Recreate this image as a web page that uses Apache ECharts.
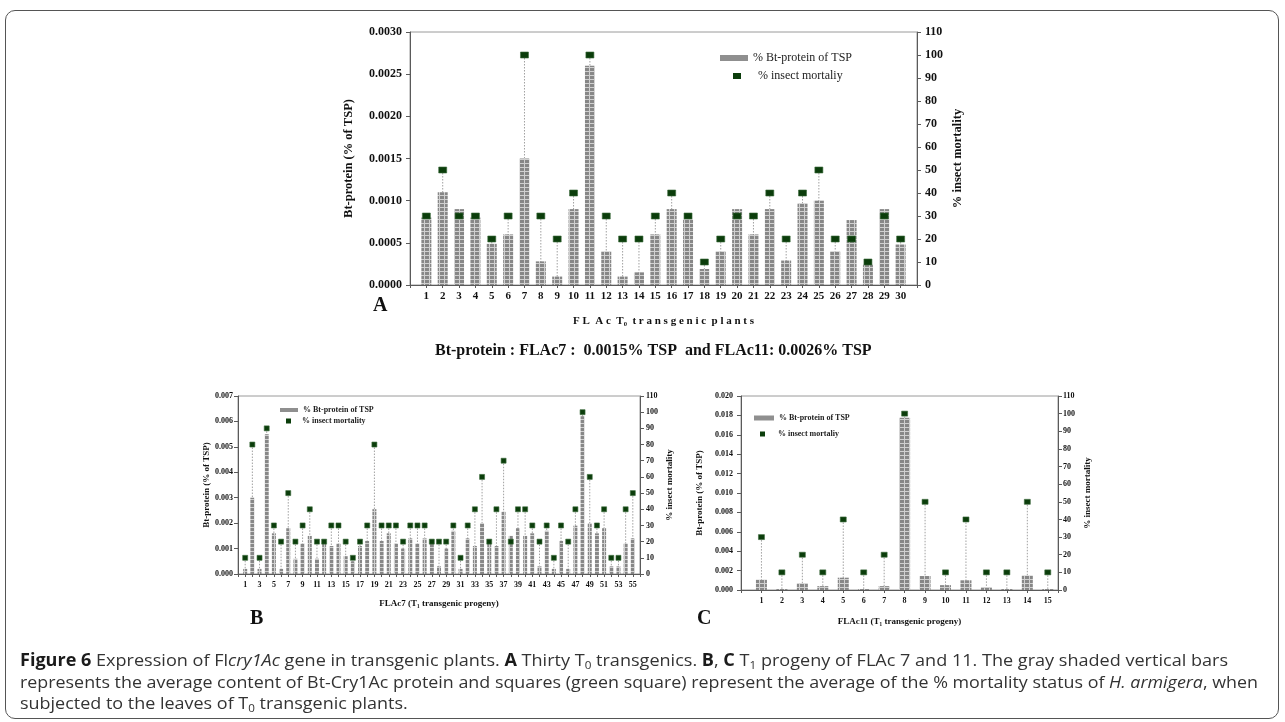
<!DOCTYPE html>
<html><head><meta charset="utf-8">
<script src="https://cdn.jsdelivr.net/npm/echarts@6/dist/echarts.min.js"></script>
<style>
html,body{margin:0;padding:0;background:#fff;}
#wrap{position:relative;width:1285px;height:722px;overflow:hidden;background:#fff;}
#chart{position:absolute;left:0;top:0;width:1285px;height:722px;}
#frame{position:absolute;left:5px;top:10px;width:1272px;height:707px;border:1.5px solid #555;border-radius:10px;pointer-events:none;}
.cap{position:absolute;left:20px;white-space:nowrap;transform-origin:0 50%;font-family:'Open Sans',sans-serif;font-size:17px;color:#333;line-height:20px;}
.cap sub{font-size:11px;vertical-align:-3px;line-height:0;}
.cap b{color:#1b1b1b;}
</style></head>
<body><div id="wrap"><div id="chart"></div><div id="frame"></div>
<div class="cap" id="c1" style="top:650px"><b>Figure 6</b> Expression of Fl<i>cry1Ac</i> gene in transgenic plants. <b>A</b> Thirty T<sub>0</sub> transgenics. <b>B</b>, <b>C</b> T<sub>1</sub> progeny of FLAc 7 and 11. The gray shaded vertical bars</div>
<div class="cap" id="c2" style="top:672px">represents the average content of Bt-Cry1Ac protein and squares (green square) represent the average of the % mortality status of <i>H. armigera</i>, when</div>
<div class="cap" id="c3" style="top:693px">subjected to the leaves of T<sub>0</sub> transgenic plants.</div>
</div>
<script>
// ---------- DATA ----------
const catsA = ['1','2','3','4','5','6','7','8','9','10','11','12','13','14','15','16','17','18','19','20','21','22','23','24','25','26','27','28','29','30'];
const proteinA = [0.0008,0.0011,0.0009,0.0008,0.00049,0.0006,0.0015,0.00028,0.0001,0.0009,0.0026,0.0004,0.0001,0.00015,0.0006,0.0009,0.00078,0.00019,0.0004,0.0009,0.0006,0.0009,0.00029,0.00097,0.001,0.0004,0.00077,0.00024,0.0009,0.00048];
const mortalityA = [30,50,30,30,20,30,100,30,20,40,100,30,20,20,30,40,30,10,20,30,30,40,20,40,50,20,20,10,30,20];

const catsB = ['1','2','3','4','5','6','7','8','9','10','11','12','13','14','15','16','17','18','19','20','21','22','23','24','25','26','27','28','29','30','31','32','33','34','35','36','37','38','39','40','41','42','43','44','45','46','47','48','49','50','51','52','53','54','55'];
const proteinB = [0.0002,0.003,0.0002,0.0055,0.0016,0.0002,0.0018,0.0006,0.0012,0.0015,0.0006,0.0013,0.0011,0.0012,0.0007,0.0005,0.0011,0.0013,0.00255,0.0013,0.0016,0.0012,0.001,0.0014,0.0012,0.0014,0.0012,0.0003,0.001,0.0017,0.0002,0.0014,0.0011,0.002,0.0012,0.0011,0.00245,0.0015,0.0018,0.0015,0.0016,0.0003,0.0017,0.0002,0.0013,0.0002,0.0019,0.0062,0.002,0.0016,0.0018,0.0003,0.0003,0.0012,0.0014];
const mortalityB = [10,80,10,90,30,20,50,20,30,40,20,20,30,30,20,10,20,30,80,30,30,30,20,30,30,30,20,20,20,30,10,30,40,60,20,40,70,20,40,40,30,20,30,10,30,20,40,100,60,30,40,10,10,40,50];

const catsC = ['1','2','3','4','5','6','7','8','9','10','11','12','13','14','15'];
const proteinC = [0.00107,0.0001,0.0007,0.0004,0.00127,0.0001,0.0004,0.01775,0.00144,0.0005,0.001,0.0003,0.0001,0.0015,0.0001];
const mortalityC = [30,10,20,10,40,10,20,100,50,10,40,10,10,50,10];

// ---------- STYLE ----------
const SERIF = "'Liberation Serif','Times New Roman',serif";
const AX = '#5a5a5a';
const GREEN = '#0b3d0b';
function makePattern(){
  const c = document.createElement('canvas'); c.width = 5; c.height = 4;
  const g = c.getContext('2d');
  g.fillStyle = '#878787'; g.fillRect(0,0,5,4);
  g.fillStyle = '#d0d0d0'; g.fillRect(4,0,1,4); g.fillRect(0,3,5,1);
  return c;
}
const pat = makePattern();

function dropLine(params, api){
  const x = api.value(0), y = api.value(1);
  const top = api.coord([x, y]), bot = api.coord([x, 0]);
  return {type:'line', shape:{x1:top[0], y1:top[1], x2:bot[0], y2:bot[1]},
          style:{stroke:'#a0a0a0', lineWidth:1, lineDash:[1.5,1.5]}};
}

function seriesFor(ax, cats, prot, mort, mortName, bw, ms){
  const xy = (arr) => arr.map((v,i) => [Number(cats[i]), v]);
  return [
    {type:'custom', silent:true, xAxisIndex:ax, yAxisIndex:ax*2+1, z:1, renderItem:dropLine, data:xy(mort), encode:{x:0, y:1}},
    {type:'bar', name:'% Bt-protein of TSP', xAxisIndex:ax, yAxisIndex:ax*2, z:2, barWidth:bw,
     itemStyle:{color:{image:pat, repeat:'repeat'}}, data:xy(prot)},
    {type:'scatter', name:mortName, xAxisIndex:ax, yAxisIndex:ax*2+1, z:3, symbol:'rect', symbolSize:ms,
     itemStyle:{color:GREEN, borderColor:'#3d6b3d', borderWidth:0.6, opacity:1}, data:xy(mort)}
  ];
}

function xAxisFor(gi, max, cats, fs, margin, name, nameGap, nfs, oddOnly){
  return {type:'value', gridIndex:gi, min:0, max:max, interval:1,
    axisLine:{show:true, lineStyle:{color:AX, width:1}},
    axisTick:{show:true, length:3, lineStyle:{color:AX}},
    splitLine:{show:false},
    axisLabel:{margin:margin, color:'#111', fontFamily:SERIF, fontWeight:'bold', fontSize:fs, showMinLabel:true, showMaxLabel:true,
      formatter:(v)=>{ if(!Number.isInteger(v) || v<1 || v>cats.length) return ''; if(oddOnly && v%2===0) return ''; return cats[v-1]; }},
    name:name, nameLocation:'middle', nameGap:nameGap,
    nameTextStyle:{color:'#111', fontFamily:SERIF, fontWeight:'bold', fontSize:nfs}
  };
}
function yAxisFor(gi, pos, max, interval, dec, fs, margin, name, nameGap, nfs){
  return {type:'value', gridIndex:gi, position:pos, min:0, max:max, interval:interval,
    axisLine:{show:true, lineStyle:{color:AX, width:1}},
    axisTick:{show:true, length:4, lineStyle:{color:AX}},
    splitLine:{show:false},
    axisLabel:{margin:margin, color:'#111', fontFamily:SERIF, fontWeight:'bold', fontSize:fs,
      formatter:(v)=> dec>0 ? v.toFixed(dec) : String(Math.round(v))},
    name:name, nameLocation:'middle', nameRotate:90, nameGap:nameGap,
    nameTextStyle:{color:'#111', fontFamily:SERIF, fontWeight:'bold', fontSize:nfs}
  };
}
function legendFor(left, top, w, h, name, color, fs, weight, prefix){
  return {left:left, top:top, padding:0, itemWidth:w, itemHeight:h, selectedMode:false,
    data:[{name:name, icon:'rect', itemStyle:{color:color, borderWidth:0}}],
    formatter:(n)=> prefix + n,
    textStyle:{fontFamily:SERIF, fontSize:fs, fontWeight:weight, color:'#222'}};
}

const chart = echarts.init(document.getElementById('chart'), null, {renderer:'canvas'});
const option = {
  animation:false,
  backgroundColor:'transparent',
  grid:[
    {left:410, top:32, width:507, height:253, show:true, borderColor:'#9a9a9a', borderWidth:1, containLabel:false},
    {left:238, top:396, width:402, height:178, show:true, borderColor:'#9a9a9a', borderWidth:1, containLabel:false},
    {left:741, top:396, width:317, height:194, show:true, borderColor:'#9a9a9a', borderWidth:1, containLabel:false}
  ],
  xAxis:[
    xAxisFor(0, 31, catsA, 11, 6, 'F L  A c  T\u2080  t r a n s g e n i c  p l a n t s', 31, 11, false),
    xAxisFor(1, 56, catsB, 8, 7, 'FLAc7 (T\u2081 transgenic progeny)', 25, 9, true),
    xAxisFor(2, 15.5, catsC, 8, 7, 'FLAc11 (T\u2081 transgenic progeny)', 27, 9, false)
  ],
  yAxis:[
    yAxisFor(0, 'left', 0.003, 0.0005, 4, 12, 8, 'Bt-protein (% of TSP)', 55, 12.5),
    yAxisFor(0, 'right', 110, 10, 0, 12, 8, '% insect mortality', 34, 12.5),
    yAxisFor(1, 'left', 0.007, 0.001, 3, 8, 5, 'Bt-protein (% of TSP)', 26, 9),
    yAxisFor(1, 'right', 110, 10, 0, 8, 6, '% insect mortality', 25, 9),
    yAxisFor(2, 'left', 0.02, 0.002, 3, 8, 8, 'Bt-protein (% of TSP)', 37, 9),
    yAxisFor(2, 'right', 110, 10, 0, 8, 5, '% insect mortality', 25, 9)
  ],
  legend:[
    legendFor(720, 52, 28, 6, '% Bt-protein of TSP', '#8f8f8f', 12, 'normal', ''),
    legendFor(733, 70, 8, 6, '% insect mortaliy', GREEN, 12, 'normal', '    '),
    legendFor(280, 406, 18, 4, '% Bt-protein of TSP', '#8f8f8f', 8, 'bold', ''),
    legendFor(286, 417, 5, 5, '% insect mortality', GREEN, 8, 'bold', '   '),
    legendFor(754, 414, 20, 5, '% Bt-protein of TSP', '#8f8f8f', 8, 'bold', ''),
    legendFor(760, 430, 5, 5, '% insect mortaliy', GREEN, 8, 'bold', '    ')
  ],
  title:[
    {text:'A', left:373, top:296, padding:0, textStyle:{fontFamily:SERIF, fontSize:20, fontWeight:'bold', color:'#111'}},
    {text:'Bt-protein : FLAc7 :  0.0015% TSP  and FLAc11: 0.0026% TSP', left:435, top:343, padding:0,
     textStyle:{fontFamily:SERIF, fontSize:16, fontWeight:'bold', color:'#111'}},
    {text:'B', left:250, top:609, padding:0, textStyle:{fontFamily:SERIF, fontSize:20, fontWeight:'bold', color:'#111'}},
    {text:'C', left:697, top:609, padding:0, textStyle:{fontFamily:SERIF, fontSize:20, fontWeight:'bold', color:'#111'}}
  ],
  series:[].concat(
    seriesFor(0, catsA, proteinA, mortalityA, '% insect mortaliy', 10, [8,6]),
    seriesFor(1, catsB, proteinB, mortalityB, '% insect mortality', 4, [5,5]),
    seriesFor(2, catsC, proteinC, mortalityC, '% insect mortaliy', 11, [6,5])
  )
};
chart.setOption(option);

// fit caption lines to reference widths
const targets = {c1:1208, c2:1238};
const scales = [];
for (const id of ['c1','c2']){
  const el = document.getElementById(id);
  const w = el.getBoundingClientRect().width;
  const s = targets[id]/w; scales.push(s);
  el.style.transform = 'scaleX(' + s + ')';
}
document.getElementById('c3').style.transform = 'scaleX(' + ((scales[0]+scales[1])/2) + ')';
</script>
</body></html>
